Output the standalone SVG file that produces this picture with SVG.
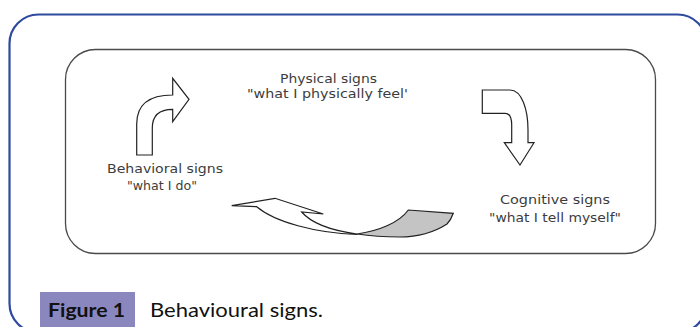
<svg xmlns="http://www.w3.org/2000/svg" width="700" height="327" viewBox="0 0 700 327">
<style>
.frame{fill:none;stroke:#2d4a9e;stroke-width:2.2}
.panel{fill:#fff;stroke:#4a4a4a;stroke-width:1.3}
.arrow{fill:#fff;stroke:#222;stroke-width:1.2;stroke-linejoin:miter}
.back{fill:#c4c4c4;stroke:#222;stroke-width:1.2}
.lbl{font-family:"DejaVu Sans","Liberation Sans",sans-serif;font-size:12.5px;fill:#3c3c3c}
.cap{font-family:Lato,"Liberation Sans",sans-serif;font-size:19px;fill:#111}
</style>
<rect width="700" height="327" fill="#fff"/>
<rect class="frame" x="9.5" y="14.5" width="697" height="318" rx="29"/>
<rect class="panel" x="65.5" y="49.5" width="590" height="204" rx="30"/>
<g id="connectors">
<path class="arrow" d="M136.7,155 L136.7,124 C136.7,104 150,95 172.7,95 L172.7,78.3 L189,99.3 L172.7,121.7 L172.7,109.3 C160,109.3 152.3,115 152.3,128 L152.3,155 Z"/>
<path class="arrow" d="M482.3,90 L510,90 C522,90 528,110 528,130 L528,142.7 L534,142.7 L520,165 L504.3,142.7 L511.7,142.7 L511.7,125 C511.7,117 509,113.3 505,113.3 L482.3,113.3 Z"/>
<path class="arrow" d="M357,234 C335,231 312,224 301.7,212 L323.3,214 L275,198.3 L231.7,205.7 L256.7,206.7 C275,222 315,233 357,234.5 Z"/>
<path class="back" d="M357,234 C378,231 399,223 408.3,210 L453.3,213.3 C452,217 450,221 447,224 C433,233 418,237 400,237 C385,237 370,236 357,234 Z"/>
</g>
<g id="physical">
<text class="lbl" x="280" y="83" textLength="97" lengthAdjust="spacingAndGlyphs">Physical signs</text>
<text class="lbl" x="247" y="98" textLength="161" lengthAdjust="spacingAndGlyphs">"what I physically feel'</text>
</g>
<g id="behavioral">
<text class="lbl" x="107" y="173" textLength="116" lengthAdjust="spacingAndGlyphs">Behavioral signs</text>
<text class="lbl" x="127" y="190" textLength="70" lengthAdjust="spacingAndGlyphs">"what I do"</text>
</g>
<g id="cognitive">
<text class="lbl" x="500" y="204" textLength="110" lengthAdjust="spacingAndGlyphs">Cognitive signs</text>
<text class="lbl" x="489" y="222" textLength="132" lengthAdjust="spacingAndGlyphs">"what I tell myself"</text>
</g>
<g id="caption">
<rect x="40" y="292" width="95" height="36" fill="#8a87bf"/>
<text class="cap" x="48" y="317" font-weight="bold" textLength="77" lengthAdjust="spacingAndGlyphs">Figure 1</text>
<text class="cap" x="150" y="317" textLength="173" lengthAdjust="spacingAndGlyphs">Behavioural signs.</text>
</g>
</svg>
